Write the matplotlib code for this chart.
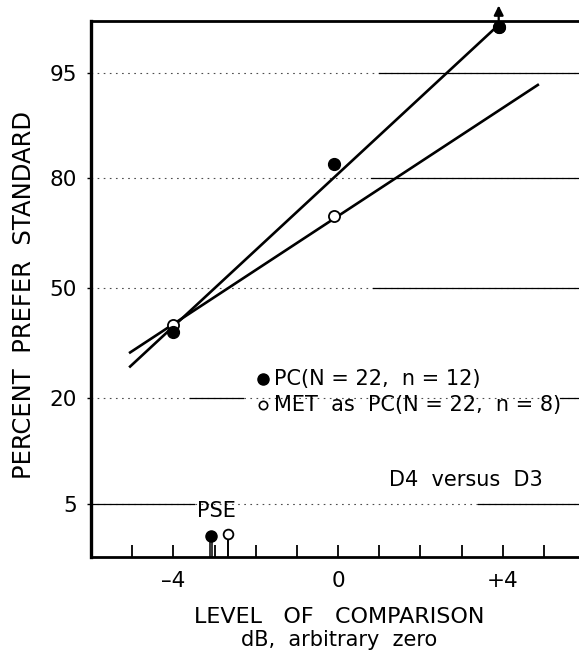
import numpy as np
import matplotlib
matplotlib.use("Agg")
import matplotlib.pyplot as plt
from statistics import NormalDist

plt.rcParams['font.family'] = ['DejaVu Sans']

# data (percent on a probit axis)
pc_x = [-4.0, -0.1, 3.9]
pc_pct = [37.0, 83.0, 97.7]
met_x = [-4.0, -0.1, 3.9]
met_pct = [39.0, 71.0, 97.7]

pc_fit_x = [-5.05, 3.9]
pc_fit_pct = [27.5, 97.8]
met_fit_x = [-5.05, 4.85]
met_fit_pct = [31.2, 94.0]

pse_pc_x, pse_pc_pct = -3.08, 2.9
pse_met_x, pse_met_pct = -2.67, 3.0

yticks = [5, 20, 50, 80, 95]
xticks = [-4, 0, 4]
xticklabels = ['\u20134', '0', '+4']

_nd = NormalDist()
def probit(p):
    p = np.clip(np.asarray(p, float), 0.01, 99.99) / 100.
    return np.vectorize(_nd.inv_cdf, otypes=[float])(p)

def iprobit(z):
    return np.vectorize(_nd.cdf, otypes=[float])(np.asarray(z, float)) * 100.


fig = plt.figure(figsize=(5.79, 6.54), dpi=100)
ax = fig.add_axes([91/579., 1-557/654., 1-91/579., (557-21)/654.])
ax.set_yscale('function', functions=(probit, iprobit))
ax.set_xlim(-6, 5.85)
ax.set_ylim(2.0, 97.95)

# broken grid lines as in the scan
for lev in yticks:
    ax.axhline(lev, color='0.3', lw=0.8, ls=(0, (1.5, 4)), zorder=1)
solid = {95: [(1.0, 5.85)], 80: [(0.8, 5.85)], 50: [(0.85, 5.85)],
         20: [(-3.6, -2.3), (5.4, 5.85)], 5: [(-6, -3.5), (3.4, 5.85)]}
for lev, segs in solid.items():
    for a, b in segs:
        ax.plot([a, b], [lev, lev], color='k', lw=0.9, zorder=1)

# fitted lines
ax.plot(pc_fit_x, pc_fit_pct, color='k', lw=1.9, zorder=2)
ax.plot(met_fit_x, met_fit_pct, color='k', lw=1.9, zorder=2)
ax.annotate('', xy=(pc_fit_x[-1], 98.55), xytext=(pc_fit_x[-1], 97.6),
            arrowprops=dict(arrowstyle='-|>', color='k', lw=1.6, mutation_scale=14),
            annotation_clip=False)

# data points
ax.plot(met_x, met_pct, 'o', ms=8, mfc='white', mec='k', mew=1.3, zorder=3, clip_on=False)
ax.plot(pc_x, pc_pct, 'o', ms=8.5, mfc='k', mec='k', zorder=4, clip_on=False)

# PSE markers
ax.plot([pse_pc_x - 0.03, pse_pc_x - 0.03], [2.0, pse_pc_pct], color='k', lw=1.1)
ax.plot([pse_pc_x + 0.03, pse_pc_x + 0.03], [2.0, pse_pc_pct], color='k', lw=1.1)
ax.plot([pse_pc_x], [pse_pc_pct], 'o', ms=8, color='k', zorder=4)
ax.plot([pse_met_x, pse_met_x], [2.0, pse_met_pct], color='k', lw=1.4)
ax.plot([pse_met_x], [pse_met_pct], 'o', ms=7, mfc='white', mec='k', mew=1.3, zorder=4)
ax.text(0.258, 0.086, 'PSE', transform=ax.transAxes, ha='center', va='center', fontsize=15)

# legend
ax.plot([0.352], [0.333], 'o', ms=8, color='k', transform=ax.transAxes)
ax.plot([0.352], [0.283], 'o', ms=6, mfc='white', mec='k', mew=1.2, transform=ax.transAxes)
ax.text(0.374, 0.333, 'PC(N = 22,  n = 12)', transform=ax.transAxes,
        ha='left', va='center', fontsize=15)
ax.text(0.374, 0.283, 'MET  as  PC(N = 22,  n = 8)', transform=ax.transAxes,
        ha='left', va='center', fontsize=15)
ax.text(0.768, 0.144, 'D4  versus  D3', transform=ax.transAxes,
        ha='center', va='center', fontsize=15)

# axes styling
ax.spines['right'].set_visible(False)
ax.spines['left'].set_linewidth(2.4)
ax.spines['bottom'].set_linewidth(2.0)
ax.spines['top'].set_linewidth(2.0)

ax.set_xticks(xticks)
ax.set_xticklabels(xticklabels, fontsize=15.5)
ax.set_xticks(np.arange(-5, 6), minor=True)
ax.tick_params(axis='x', which='both', direction='in', length=9, width=1.3, pad=10)
ax.set_yticks(yticks)
ax.set_yticklabels([str(t) for t in yticks], fontsize=15.5)
ax.yaxis.set_minor_locator(matplotlib.ticker.NullLocator())
ax.tick_params(axis='y', direction='out', length=3, width=1.0, pad=7)

fig.text(24/579., 1-295/654., 'PERCENT  PREFER  STANDARD', rotation=90,
         ha='center', va='center', fontsize=17.5)
fig.text(339/579., 1-617/654., 'LEVEL   OF   COMPARISON', ha='center', va='center', fontsize=16)
fig.text(339/579., 1-640/654., 'dB,  arbitrary  zero', ha='center', va='center', fontsize=15)

fig.savefig('out.png', dpi=100)
